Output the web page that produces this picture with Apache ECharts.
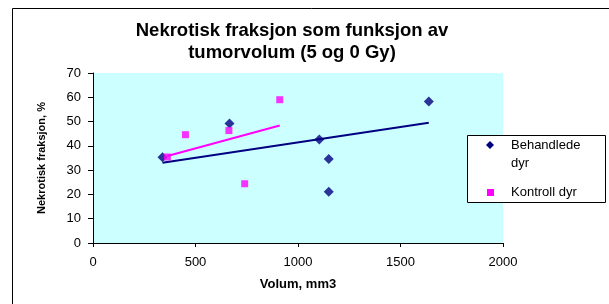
<!DOCTYPE html>
<html>
<head>
<meta charset="utf-8">
<script src="https://cdn.jsdelivr.net/npm/echarts@6/dist/echarts.min.js"></script>
<style>
html,body{margin:0;padding:0;background:#fff;}
#c{width:609px;height:304px;}
</style>
</head>
<body>
<div id="c"></div>
<script>
// Data
const behandledeX = [339, 666, 1104, 1150, 1150, 1638];
const behandledeY = [35.3, 49.2, 42.6, 34.6, 21.1, 58.3];
const kontrollX = [363, 451, 663, 740, 911];
const kontrollY = [35.4, 44.6, 46.3, 24.4, 59.0];
// Linear trendline end points (as drawn in the reference)
const trendBehandledeX = [339, 1638];
const trendBehandledeY = [33.0, 49.5];
const trendKontrollX = [363, 911];
const trendKontrollY = [35.8, 48.4];
const xTicks = [0, 500, 1000, 1500, 2000];
const yTicks = [0, 10, 20, 30, 40, 50, 60, 70];
const seriesNames = ['Behandlede dyr', 'Kontroll dyr'];
const titleLines = ['Nekrotisk fraksjon som funksjon av', 'tumorvolum (5 og 0 Gy)'];

const zip = (xs, ys) => xs.map((x, i) => [x, ys[i]]);
const NAVY = '#000080', PINK = '#FF00FF';
const FONT = 'Liberation Sans, Arial, sans-serif';

const chart = echarts.init(document.getElementById('c'), null, {renderer: 'canvas'});
chart.setOption({
  animation: false,
  backgroundColor: '#ffffff',
  textStyle: {fontFamily: FONT},
  title: {
    text: titleLines.join('\n'),
    left: 287,
    textAlign: 'center',
    top: 15,
    textStyle: {fontFamily: FONT, fontSize: 18.5, fontWeight: 'bold', color: '#000', lineHeight: 22}
  },
  grid: {
    left: 93, top: 73, width: 410, height: 170,
    show: true, backgroundColor: '#CCFFFF', borderWidth: 0
  },
  xAxis: {
    type: 'value', min: xTicks[0], max: xTicks[xTicks.length - 1], interval: 500,
    name: 'Volum, mm3', nameLocation: 'middle', nameGap: 35,
    nameTextStyle: {fontFamily: FONT, fontSize: 13, fontWeight: 'bold', color: '#000'},
    axisLine: {show: true, lineStyle: {color: '#000', width: 1}},
    axisTick: {show: true, inside: false, length: 4, lineStyle: {color: '#000'}},
    axisLabel: {fontFamily: FONT, fontSize: 13, color: '#000', margin: 13, formatter: v => String(v)},
    splitLine: {show: false}
  },
  yAxis: {
    type: 'value', min: yTicks[0], max: yTicks[yTicks.length - 1], interval: 10,
    name: 'Nekrotisk fraksjon, %', nameLocation: 'middle', nameGap: 46, nameRotate: 90,
    nameTextStyle: {fontFamily: FONT, fontSize: 11, fontWeight: 'bold', color: '#000'},
    axisLine: {show: true, lineStyle: {color: '#000', width: 1}},
    axisTick: {show: true, inside: false, length: 5, lineStyle: {color: '#000'}},
    axisLabel: {fontFamily: FONT, fontSize: 13, color: '#000', margin: 12, formatter: v => String(v)},
    splitLine: {show: false}
  },
  series: [
    {
      name: seriesNames[0], type: 'scatter', symbol: 'diamond', symbolSize: 10,
      itemStyle: {color: NAVY}, data: zip(behandledeX, behandledeY), z: 3
    },
    {
      name: seriesNames[1], type: 'scatter', symbol: 'rect', symbolSize: 7,
      itemStyle: {color: PINK}, data: zip(kontrollX, kontrollY), z: 3
    },
    {
      name: 'trend1', type: 'line', showSymbol: false, symbol: 'none',
      lineStyle: {color: NAVY, width: 2}, data: zip(trendBehandledeX, trendBehandledeY), z: 2
    },
    {
      name: 'trend2', type: 'line', showSymbol: false, symbol: 'none',
      lineStyle: {color: PINK, width: 2}, data: zip(trendKontrollX, trendKontrollY), z: 2
    }
  ],
  graphic: [
    {type: 'rect', x: 0, y: 0, shape: {x: 12.5, y: 8.5, width: 800, height: 500}, style: {fill: 'none', stroke: '#000', lineWidth: 1}, silent: true, z: 0},
    {type: 'rect', x: 467, y: 135, shape: {x: 0.5, y: 0.5, width: 138, height: 67}, style: {fill: '#fff', stroke: '#000', lineWidth: 1}, z: 10},
    {type: 'polygon', x: 467, y: 135, shape: {points: [[23, 6], [27, 10], [23, 14], [19, 10]]}, style: {fill: NAVY}, z: 11},
    {type: 'text', x: 511, y: 145, style: {text: 'Behandlede', font: '13px ' + FONT, fill: '#000', verticalAlign: 'middle'}, z: 11},
    {type: 'text', x: 511, y: 163, style: {text: 'dyr', font: '13px ' + FONT, fill: '#000', verticalAlign: 'middle'}, z: 11},
    {type: 'rect', x: 467, y: 135, shape: {x: 20, y: 54, width: 7, height: 7}, style: {fill: PINK}, z: 11},
    {type: 'text', x: 511, y: 192, style: {text: 'Kontroll dyr', font: '13px ' + FONT, fill: '#000', verticalAlign: 'middle'}, z: 11}
  ]
});
</script>
</body>
</html>
